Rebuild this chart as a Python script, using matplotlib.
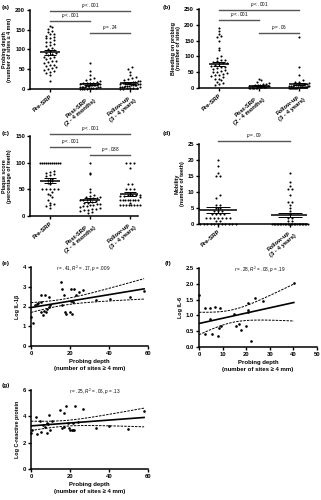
import numpy as np
import matplotlib
matplotlib.use("Agg")
import matplotlib.pyplot as plt
from matplotlib.ticker import FormatStrFormatter

plt.rcParams['font.family'] = ['Liberation Sans', 'DejaVu Sans']
plt.rcParams['mathtext.fontset'] = 'custom'
plt.rcParams['mathtext.rm'] = 'Liberation Sans'
plt.rcParams['mathtext.it'] = 'Liberation Sans:italic'
plt.rcParams['mathtext.bf'] = 'Liberation Sans:bold'

# ---- data ----
groups3 = ['Pre-SRP', 'Post-SRP\n(2 - 4 months)', 'Follow-up\n(3 - 4 years)']
groups2 = ['Pre-SRP', 'Follow-up\n(3 - 4 years)']

pd_pre = [160, 157, 152, 148, 145, 140, 138, 135, 132, 130, 128, 124, 120, 118, 115, 112, 108, 105, 100,
          98, 95, 92, 90, 88, 85, 82, 80, 78, 75, 72, 70, 68, 65, 62, 60, 58, 55, 52, 50, 48, 45, 42, 40, 35, 20]
pd_post = [65, 45, 35, 28, 25, 22, 20, 18, 16, 15, 14, 14, 13, 12, 12, 11, 10, 10, 9, 9, 8, 8, 7, 6, 6,
           5, 5, 4, 4, 3, 3, 2, 2, 1, 1, 0, 0]
pd_fu = [55, 50, 42, 35, 30, 28, 25, 22, 20, 20, 18, 18, 16, 15, 15, 14, 13, 12, 12, 11, 10, 10, 9, 8, 8,
         7, 6, 5, 5, 4, 3, 3, 2, 2, 1, 1]

bop_pre = [190, 180, 170, 165, 160, 150, 128, 120, 100, 95, 90, 88, 85, 82, 80, 78, 75, 72, 70, 68, 65, 62,
           60, 58, 55, 52, 50, 48, 45, 42, 40, 38, 35, 30, 28, 25, 20, 15, 12, 10]
bop_post = [30, 25, 20, 16, 14, 12, 10, 9, 8, 7, 6, 5, 5, 4, 4, 3, 3, 2, 2, 2, 1, 1, 1, 0, 0, 0, 0]
bop_fu = [160, 65, 40, 25, 20, 18, 15, 14, 12, 12, 10, 10, 9, 8, 8, 7, 6, 6, 5, 5, 4, 4, 3, 3, 3, 2, 2, 2,
          2, 1, 1, 1, 1, 0, 0, 0, 0, 0]

pl_pre = [100] * 11 + [85, 83, 80, 78, 76, 75, 70, 68, 65, 62, 60, 50, 50, 50, 50, 50, 45, 42, 40, 35, 30,
                       25, 22, 20, 18, 15]
pl_post = [100, 80, 78, 50, 45, 40, 38, 36, 35, 34, 33, 32, 30, 30, 30, 28, 26, 25, 24, 22, 22, 20, 20, 18,
           18, 16, 15, 14, 13, 12, 12, 10, 8, 5]
pl_fu = [100, 100, 100, 90, 60, 60, 50, 50, 50, 42, 40, 40, 40, 40, 38, 38, 35, 30, 30, 30, 30, 30, 30, 30,
         30, 25, 20, 20, 20, 20, 20, 20, 20, 20]

mob_pre = [20, 18, 16, 15, 15, 9, 8, 6, 6, 5, 5, 4, 4, 4, 3, 3, 3, 3, 2, 2, 2, 2, 2, 2, 2, 1, 1] + [0] * 11
mob_fu = [16, 13, 12, 11, 11, 9, 7, 7, 6, 5, 4, 3, 2, 2, 1, 1] + [0] * 24

il1_x = [0, 1, 2.2, 3.2, 3.6, 5.0, 5.0, 5.3, 6.1, 6.7, 7.0, 7.8, 8.4, 9.1, 9.1, 9.6, 15.2, 15.9, 15.9,
         17.0, 17.3, 18.1, 19.8, 20.3, 20.7, 21.0, 21.6, 21.9, 23.2, 24.4, 26.7, 33.5, 40.3, 50.6, 58]
il1_y = [1.45, 1.15, 2.06, 2.14, 2.2, 2.23, 2.6, 1.72, 1.58, 1.75, 2.6, 1.72, 1.89, 1.97, 2.48, 2.06, 3.24,
         2.87, 2.06, 2.6, 1.72, 1.64, 1.72, 2.26, 2.9, 1.6, 2.23, 2.9, 2.6, 2.75, 2.82, 2.31, 2.36, 2.48, 2.8]

il6_x = [0, 2.7, 2.7, 4.8, 4.8, 5.7, 6.7, 8.1, 8.5, 8.8, 9.2, 14.8, 15.8, 16.8, 18, 19.8, 20.9, 20.9, 20.9,
         21.9, 23.6, 27, 40.2]
il6_y = [1.65, 1.24, 0.42, 1.22, 0.9, 0.4, 1.27, 0.34, 0.6, 1.25, 0.65, 1.06, 0.65, 0.72, 0.55, 0.65, 1.38,
         1.16, 1.12, 0.18, 1.55, 1.44, 2.04]

crp_x = [0, 0.5, 2.7, 3.3, 4.7, 5.0, 6.4, 7.2, 8.0, 8.0, 8.9, 9.4, 9.7, 11, 14.7, 16, 16.7, 16.7, 17.7, 18.9,
         19.7, 20.2, 20.8, 21.4, 21.8, 21.4, 22.8, 23.9, 26.8, 33.2, 39.9, 49.9, 58]
crp_y = [2.76, 3.0, 3.92, 2.66, 3.67, 2.84, 3.34, 3.16, 3.5, 2.76, 3.44, 4.1, 2.96, 3.62, 4.48, 3.1, 3.2,
         4.28, 4.78, 3.52, 3.1, 2.96, 2.96, 2.96, 2.96, 3.47, 4.8, 3.6, 4.53, 3.1, 3.27, 3.06, 4.43]

FS_TICK = 4.2
FS_LAB = 3.9
FS_P = 3.3

fig = plt.figure(figsize=(3.21, 5.0), dpi=100)
W, H = 321.0, 500.0


def axes_px(x0, y_top, x1, y_bot):
    return fig.add_axes([x0 / W, 1 - y_bot / H, (x1 - x0) / W, (y_bot - y_top) / H])


def style(ax):
    for s in ['top', 'right']:
        ax.spines[s].set_visible(False)
    for s in ['left', 'bottom']:
        ax.spines[s].set_linewidth(1.1)
    ax.tick_params(direction='out', length=2.5, width=1.0, labelsize=FS_TICK, pad=1)
    for t in ax.get_xticklabels() + ax.get_yticklabels():
        t.set_fontweight('bold')


def swarm(ax, vals, h=3.4, step=4.0, wmax=0.5):
    # group points into horizontal rows (bins) and spread each row around the center
    tr = ax.transData
    upx = tr.transform((1, 0))[0] - tr.transform((0, 0))[0]
    base = tr.transform((0, 0))[1]
    ypx = np.array([tr.transform((0, v))[1] - base for v in vals])
    rows = np.round(ypx / h)
    offs = np.zeros(len(vals))
    for r in np.unique(rows):
        idx = np.where(rows == r)[0]
        idx = idx[np.argsort(np.array(vals)[idx])]
        n = len(idx)
        if n == 1:
            continue
        sp = min(step, wmax * upx / (n - 1))
        offs[idx] = (np.arange(n) - (n - 1) / 2.0) * sp / upx
    return offs


def dotplot(ax, data, labels, xlim, ylim, yticks, ylabel, bars, label_pad):
    ax.set_xlim(xlim)
    ax.set_ylim(ylim)
    ax.set_yticks(yticks)
    ax.set_xticks(range(len(data)))
    for i, vals in enumerate(data):
        vals = np.array(vals, dtype=float)
        offs = swarm(ax, vals)
        ax.plot(i + offs, vals, 'o', ms=1.5, color='black', mew=0, clip_on=False)
        m = vals.mean()
        se = vals.std(ddof=1) / np.sqrt(len(vals))
        ax.hlines(m, i - 0.26, i + 0.26, color='black', lw=1.1)
        ax.hlines([m - se, m + se], i - 0.16, i + 0.16, color='black', lw=0.7)
        ax.vlines(i, m - se, m + se, color='black', lw=0.7)
    ax.set_xticklabels(labels, rotation=40, ha='right', rotation_mode='anchor',
                       multialignment='center')
    style(ax)
    ax.set_ylabel(ylabel, fontsize=FS_LAB, fontweight='bold', labelpad=label_pad, linespacing=1.1)
    for i, j, y, txt in bars:
        ax.plot([i, j], [y, y], color='#555555', lw=1.0, clip_on=False)
        ax.text((i + j) / 2, y + (ylim[1] - ylim[0]) * 0.01, txt, ha='center', va='bottom',
                fontsize=FS_P, clip_on=False)


def tval(df):
    return 1.96 + 2.4 / df


def scatter_fit(ax, x, y, xlim, ylim, xticks, yticks, ylabel, note, note_xy):
    x = np.array(x)
    y = np.array(y)
    ax.set_xlim(xlim)
    ax.set_ylim(ylim)
    ax.set_xticks(xticks)
    ax.set_yticks(yticks)
    ax.plot(x, y, 'o', ms=1.9, color='black', mew=0, clip_on=False)
    b, a = np.polyfit(x, y, 1)
    xx = np.linspace(0, x.max(), 120)
    n = len(x)
    resid = y - (a + b * x)
    s = np.sqrt((resid ** 2).sum() / (n - 2))
    sxx = ((x - x.mean()) ** 2).sum()
    band = tval(n - 2) * s * np.sqrt(1.0 / n + (xx - x.mean()) ** 2 / sxx)
    fit = a + b * xx
    ax.plot(xx, fit, color='black', lw=1.2)
    ax.plot(xx, fit + band, color='black', lw=0.7, ls=(0, (2.5, 1.2)))
    ax.plot(xx, fit - band, color='black', lw=0.7, ls=(0, (2.5, 1.2)))
    style(ax)
    ax.set_ylabel(ylabel, fontsize=FS_LAB, fontweight='bold', labelpad=2)
    ax.set_xlabel('Probing depth\n(number of sites \u2265 4 mm)', fontsize=4.3, fontweight='bold',
                  labelpad=2, linespacing=1.5)
    ax.text(note_xy[0], note_xy[1], note, ha='center', va='center', fontsize=FS_P)


p001 = r'$p$ < .001'

ax_a = axes_px(30, 10, 138, 89)
dotplot(ax_a, [pd_pre, pd_post, pd_fu], groups3, (-0.5, 2.2), (0, 200), [0, 50, 100, 150, 200],
        'Probing depth\n(number of sites \u2265 4 mm)',
        [(0, 2, 197, p001), (0, 1, 173, p001), (1, 2, 142, r'$p$ = .24')], 2)

ax_b = axes_px(199, 9, 307, 88)
dotplot(ax_b, [bop_pre, bop_post, bop_fu], groups3, (-0.5, 2.2), (0, 250), [0, 50, 100, 150, 200, 250],
        'Bleeding on probing\n(number of sites)',
        [(0, 2, 246, p001), (0, 1, 215, p001), (1, 2, 174, r'$p$ = .06')], 2)

ax_c = axes_px(30, 136, 138, 216)
dotplot(ax_c, [pl_pre, pl_post, pl_fu], groups3, (-0.5, 2.2), (0, 150), [0, 50, 100, 150],
        'Plaque score\n(percentage of teeth)',
        [(0, 2, 154, p001), (0, 1, 130, p001), (1, 2, 114, r'$p$ = .038')], 2)

ax_d = axes_px(199, 144, 307, 224)
dotplot(ax_d, [mob_pre, mob_fu], groups2, (-0.264, 1.236), (0, 25), [0, 5, 10, 15, 20, 25],
        'Mobility\n(number of teeth)', [(0, 1, 26, r'$p$ = .09')], 2)

ax_e = axes_px(31, 267, 148, 346)
scatter_fit(ax_e, il1_x, il1_y, (0, 60), (0, 4), [0, 20, 40, 60], [0, 1, 2, 3, 4],
            'Log IL-1\u03b2', r'$r$ = .41, $R^2$ = .17, $p$ = .009', (27, 3.9))

ax_f = axes_px(199, 268, 317, 347)
scatter_fit(ax_f, il6_x, il6_y, (0, 50), (0, 2.5), [0, 10, 20, 30, 40, 50], [0, 0.5, 1.0, 1.5, 2.0, 2.5],
            'Log IL-6', r'$r$ = .28, $R^2$ = .08, $p$ = .19', (26, 2.45))
ax_f.yaxis.set_major_formatter(FormatStrFormatter('%.1f'))

ax_g = axes_px(31, 390, 148, 469)
scatter_fit(ax_g, crp_x, crp_y, (0, 60), (0, 6), [0, 20, 40, 60], [0, 2, 4, 6],
            'Log C-reactive protein', r'$r$ = .25, $R^2$ = .06, $p$ = .13', (33, 5.85))

for lab, x, y in [('(a)', 2, 7), ('(b)', 163, 7), ('(c)', 2, 134), ('(d)', 163, 134),
                  ('(e)', 2, 264), ('(f)', 165, 264), ('(g)', 2, 386)]:
    fig.text(x / W, 1 - y / H, lab, fontsize=4.6, fontweight='bold', ha='left', va='center')

fig.savefig('out.png', dpi=100)
